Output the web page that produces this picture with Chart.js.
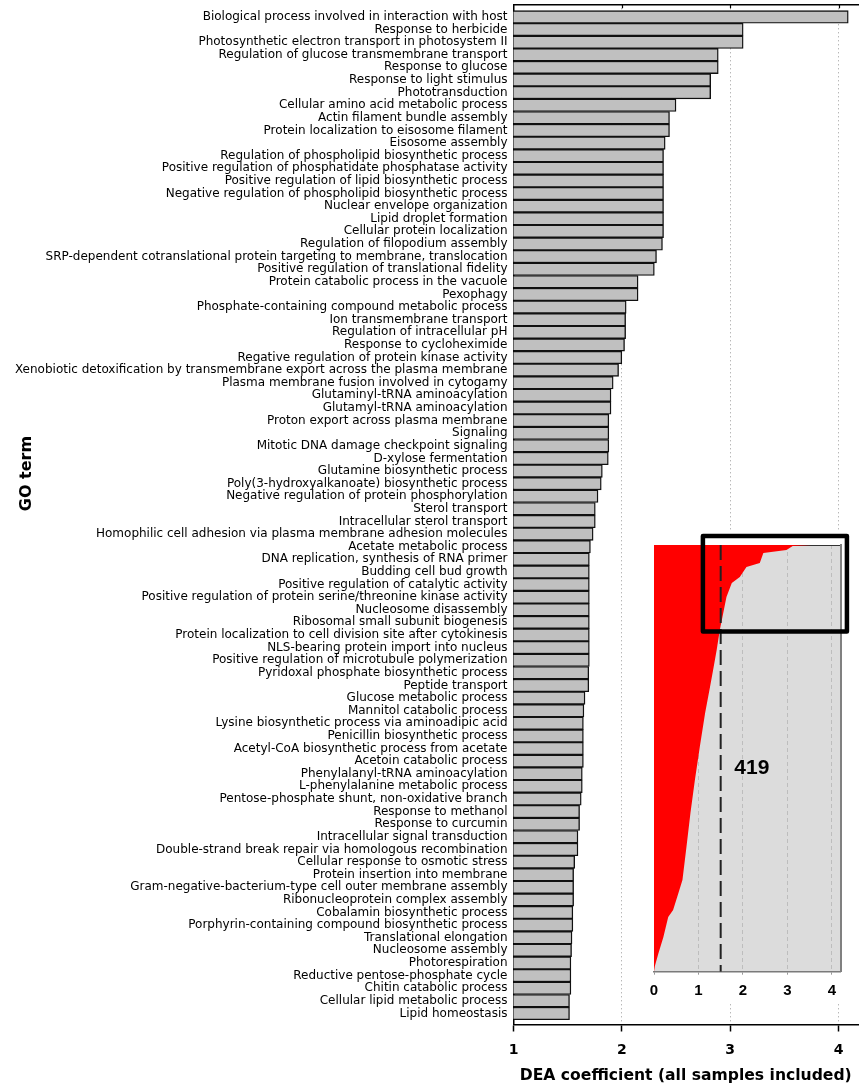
<!DOCTYPE html>
<html>
<head>
<meta charset="utf-8">
<title>GO terms by DEA coefficient</title>
<script src="https://cdn.jsdelivr.net/npm/chart.js@4.4.1/dist/chart.umd.min.js"></script>
<style>
  body{margin:0;background:#fff}
  #wrap{position:relative;width:859px;height:1091px}
  #main{position:absolute;left:0;top:0}
  #inset{position:absolute;left:640px;top:532px;background:#fff}
</style>
</head>
<body>
<div id="wrap">
  <canvas id="main" width="859" height="1091"></canvas>
  <canvas id="inset" width="219" height="472"></canvas>
</div>
<script>
// top GO terms, sorted by DEA coefficient
const terms = [
  'Biological process involved in interaction with host',
  'Response to herbicide',
  'Photosynthetic electron transport in photosystem II',
  'Regulation of glucose transmembrane transport',
  'Response to glucose',
  'Response to light stimulus',
  'Phototransduction',
  'Cellular amino acid metabolic process',
  'Actin filament bundle assembly',
  'Protein localization to eisosome filament',
  'Eisosome assembly',
  'Regulation of phospholipid biosynthetic process',
  'Positive regulation of phosphatidate phosphatase activity',
  'Positive regulation of lipid biosynthetic process',
  'Negative regulation of phospholipid biosynthetic process',
  'Nuclear envelope organization',
  'Lipid droplet formation',
  'Cellular protein localization',
  'Regulation of filopodium assembly',
  'SRP-dependent cotranslational protein targeting to membrane, translocation',
  'Positive regulation of translational fidelity',
  'Protein catabolic process in the vacuole',
  'Pexophagy',
  'Phosphate-containing compound metabolic process',
  'Ion transmembrane transport',
  'Regulation of intracellular pH',
  'Response to cycloheximide',
  'Regative regulation of protein kinase activity',
  'Xenobiotic detoxification by transmembrane export across the plasma membrane',
  'Plasma membrane fusion involved in cytogamy',
  'Glutaminyl-tRNA aminoacylation',
  'Glutamyl-tRNA aminoacylation',
  'Proton export across plasma membrane',
  'Signaling',
  'Mitotic DNA damage checkpoint signaling',
  'D-xylose fermentation',
  'Glutamine biosynthetic process',
  'Poly(3-hydroxyalkanoate) biosynthetic process',
  'Negative regulation of protein phosphorylation',
  'Sterol transport',
  'Intracellular sterol transport',
  'Homophilic cell adhesion via plasma membrane adhesion molecules',
  'Acetate metabolic process',
  'DNA replication, synthesis of RNA primer',
  'Budding cell bud growth',
  'Positive regulation of catalytic activity',
  'Positive regulation of protein serine/threonine kinase activity',
  'Nucleosome disassembly',
  'Ribosomal small subunit biogenesis',
  'Protein localization to cell division site after cytokinesis',
  'NLS-bearing protein import into nucleus',
  'Positive regulation of microtubule polymerization',
  'Pyridoxal phosphate biosynthetic process',
  'Peptide transport',
  'Glucose metabolic process',
  'Mannitol catabolic process',
  'Lysine biosynthetic process via aminoadipic acid',
  'Penicillin biosynthetic process',
  'Acetyl-CoA biosynthetic process from acetate',
  'Acetoin catabolic process',
  'Phenylalanyl-tRNA aminoacylation',
  'L-phenylalanine metabolic process',
  'Pentose-phosphate shunt, non-oxidative branch',
  'Response to methanol',
  'Response to curcumin',
  'Intracellular signal transduction',
  'Double-strand break repair via homologous recombination',
  'Cellular response to osmotic stress',
  'Protein insertion into membrane',
  'Gram-negative-bacterium-type cell outer membrane assembly',
  'Ribonucleoprotein complex assembly',
  'Cobalamin biosynthetic process',
  'Porphyrin-containing compound biosynthetic process',
  'Translational elongation',
  'Nucleosome assembly',
  'Photorespiration',
  'Reductive pentose-phosphate cycle',
  'Chitin catabolic process',
  'Cellular lipid metabolic process',
  'Lipid homeostasis'
];
const dea = [
  4.09, 3.12, 3.12, 2.89, 2.89, 2.82, 2.82, 2.50, 2.44, 2.44,
  2.40, 2.385, 2.385, 2.385, 2.385, 2.385, 2.385, 2.385, 2.375, 2.32,
  2.30, 2.15, 2.15, 2.04, 2.035, 2.035, 2.025, 2.00, 1.97, 1.92,
  1.90, 1.90, 1.88, 1.88, 1.88, 1.875, 1.82, 1.81, 1.78, 1.755,
  1.755, 1.735, 1.71, 1.70, 1.70, 1.70, 1.70, 1.70, 1.70, 1.70,
  1.70, 1.70, 1.695, 1.695, 1.66, 1.65, 1.645, 1.645, 1.645, 1.645,
  1.635, 1.635, 1.625, 1.61, 1.61, 1.595, 1.595, 1.565, 1.555, 1.555,
  1.555, 1.548, 1.548, 1.54, 1.536, 1.53, 1.53, 1.53, 1.517, 1.517
];
const xLabels = [1, 2, 3, 4];

// inset: all GO terms ranked by DEA coefficient
const insetTotal = 2210;
const insetRank  = [0, 5, 26, 41, 93, 114, 166, 197, 269, 373, 440, 544, 648, 736, 870, 1046, 1217, 1388, 1564, 1735, 1803, 1891, 1927, 2031, 2114, 2180, 2210];
const insetValue = [3.54, 3.12, 2.98, 2.46, 2.38, 2.08, 1.93, 1.75, 1.63, 1.54, 1.48, 1.41, 1.33, 1.26, 1.15, 1.03, 0.92, 0.82, 0.73, 0.64, 0.55, 0.43, 0.32, 0.21, 0.10, 0.02, 0];
const insetLabels = [0, 1, 2, 3, 4];
const threshold = 1.5;
const aboveThreshold = 419;
const zoomBoxX = [1.10, 4.34];
const zoomBoxRank = [-47, 448];

const FONT = 'DejaVu Sans';
const clear = 'rgba(0,0,0,0)';

// inward ticks on the frame + rotated y title
const frameTicks = {
  id: 'frameTicks',
  afterDraw(chart){
    const {ctx, chartArea: a, scales: {x}} = chart;
    ctx.save();
    ctx.strokeStyle = '#000'; ctx.lineWidth = 1.2;
    x.ticks.forEach(t=>{
      if(t.value <= x.min || t.value > 4) return;
      const px = Math.round(x.getPixelForValue(t.value)) + 0.5;
      ctx.beginPath(); ctx.moveTo(px, a.top); ctx.lineTo(px, a.top + 4); ctx.stroke();
      if(!Number.isInteger(t.value)){ ctx.beginPath(); ctx.moveTo(px, a.bottom); ctx.lineTo(px, a.bottom - 4); ctx.stroke(); }
    });
    ctx.translate(27, 473.5); ctx.rotate(-Math.PI/2);
    ctx.font = `bold 16px "${FONT}"`; ctx.fillStyle = '#000';
    ctx.textAlign = 'center'; ctx.textBaseline = 'middle';
    ctx.fillText('GO term', 0, 0);
    ctx.restore();
  }
};

new Chart(document.getElementById('main'), {
  type: 'bar',
  data: {
    datasets: [{
      data: dea.map((v,i)=>({x: v, y: i})),
      backgroundColor: '#c0c0c0', borderColor: '#111', borderWidth: 1.4,
      barPercentage: 1, categoryPercentage: 1
    }]
  },
  options: {
    indexAxis: 'y', responsive: false, animation: false, devicePixelRatio: 1,
    layout: {padding: {right: 1}},
    plugins: {legend: {display: false}, tooltip: {enabled: false}},
    scales: {
      y: {
        type: 'linear', reverse: true, min: -1, max: 79.88, offset: false,
        afterFit: s=>{ s.width = 513.5; s.paddingTop = 0; s.paddingBottom = 0; },
        grid: {display: false, drawTicks: false},
        border: {color: '#000', width: 1.5},
        ticks: {stepSize: 1, maxTicksLimit: 200, autoSkip: false, includeBounds: false, padding: 6, color: '#000',
          font: {family: FONT, size: 12},
          callback: v => Number.isInteger(v) && terms[v] ? terms[v] : null}
      },
      x: {
        type: 'linear', position: 'bottom', min: 1, max: 4.18,
        afterFit: s=>{ s.height = 66.5; },
        border: {color: '#000', width: 1.5, dash: [1, 3]},
        grid: {
          color: c => [2,3,4].includes(c.tick && c.tick.value) ? '#9a9a9a' : clear,
          tickColor: c => xLabels.includes(c.tick && c.tick.value) ? '#000' : clear,
          tickLength: 7, lineWidth: 1, tickWidth: 1.5
        },
        ticks: {stepSize: 0.5, autoSkip: false, includeBounds: false, color: '#000', padding: 10.5,
          font: {family: FONT, size: 14, weight: 'bold'},
          callback: v => xLabels.includes(v) ? String(v) : null},
        title: {display: true, text: 'DEA coefficient (all samples included)', color: '#000',
          font: {family: FONT, size: 15.6, weight: 'bold'}, padding: {top: 0, bottom: 6}}
      },
      x2: {
        type: 'linear', position: 'top', min: 1, max: 4.18,
        afterFit: s=>{ s.height = 4.3; },
        grid: {display: false}, ticks: {display: false},
        border: {color: '#000', width: 1.5}
      }
    }
  },
  plugins: [frameTicks]
});

// grey plot background, zoom box and count label for the inset
const insetDecor = {
  id: 'insetDecor',
  beforeDraw(chart){
    const {ctx, chartArea: a} = chart;
    ctx.save(); ctx.fillStyle = '#dcdcdc';
    ctx.fillRect(a.left, a.top, a.right - a.left, a.bottom - a.top);
    ctx.restore();
  },
  afterDraw(chart){
    const {ctx, scales: {x, y}} = chart;
    ctx.save();
    const x0 = x.getPixelForValue(zoomBoxX[0]), x1 = x.getPixelForValue(zoomBoxX[1]);
    const y0 = y.getPixelForValue(zoomBoxRank[0]), y1 = y.getPixelForValue(zoomBoxRank[1]);
    ctx.strokeStyle = '#000'; ctx.lineWidth = 4.5; ctx.lineJoin = 'round';
    ctx.strokeRect(x0, y0, x1 - x0, y1 - y0);
    ctx.font = 'bold 21px "Liberation Sans"'; ctx.fillStyle = '#000';
    ctx.textAlign = 'center'; ctx.textBaseline = 'middle';
    ctx.fillText(String(aboveThreshold), x.getPixelForValue(2.2), y.getPixelForValue(1157));
    ctx.restore();
  }
};

new Chart(document.getElementById('inset'), {
  type: 'line',
  data: {
    datasets: [
      {data: [0, insetTotal].map(r=>({x: threshold, y: r})), borderColor: '#222', borderWidth: 2,
        borderDash: [15, 6], pointRadius: 0, fill: false, order: 1},
      {data: insetValue.map((v,i)=>({x: v, y: insetRank[i]})), borderWidth: 0, borderColor: '#ff0000',
        backgroundColor: '#ff0000', fill: 'origin', pointRadius: 0, tension: 0, order: 2}
    ]
  },
  options: {
    indexAxis: 'y', responsive: false, animation: false, devicePixelRatio: 1,
    layout: {padding: {left: 14, top: 13, right: 18.3}},
    plugins: {legend: {display: false}, tooltip: {enabled: false}},
    scales: {
      x: {
        type: 'linear', min: 0, max: 4.2,
        afterFit: s=>{ s.height = 32.3; },
        grid: {color: c => insetLabels.includes(c.tick && c.tick.value) && c.tick.value > 0 ? '#bdbdbd' : clear,
          tickColor: '#999', tickLength: 3, lineWidth: 1},
        border: {color: '#7a7a7a', width: 1.5, dash: [4, 3]},
        ticks: {stepSize: 1, includeBounds: false, color: '#000', padding: 7,
          font: {family: 'Liberation Sans', size: 15, weight: 'bold'},
          callback: v => insetLabels.includes(v) ? String(v) : null}
      },
      xTop: {
        type: 'linear', position: 'top', min: 0, max: 4.2,
        afterFit: s=>{ s.height = 0; },
        grid: {display: false}, ticks: {display: false},
        border: {color: '#333', width: 1}
      },
      y: {type: 'linear', reverse: true, min: 0, max: insetTotal, display: false},
      yRight: {
        type: 'linear', position: 'right', reverse: true, min: 0, max: insetTotal,
        afterFit: s=>{ s.width = 0; },
        grid: {display: false}, ticks: {display: false},
        border: {color: '#808080', width: 2}
      }
    }
  },
  plugins: [insetDecor]
});
</script>
</body>
</html>
